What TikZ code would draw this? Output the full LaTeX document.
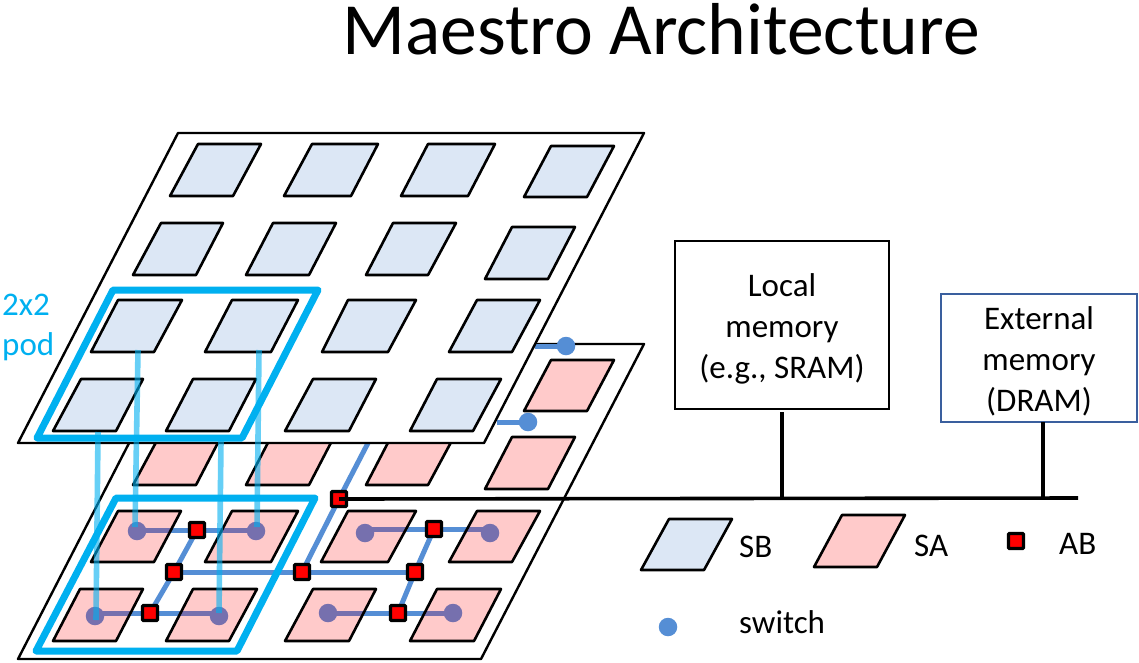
\documentclass[tikz,border=0pt]{standalone}
\usepackage{fontspec}
\setmainfont{Carlito}
\usetikzlibrary{calc}
\definecolor{sbfill}{HTML}{DCE7F5}
\definecolor{safill}{HTML}{FFCACA}
\definecolor{wireblue}{HTML}{558ED5}
\definecolor{wirepurple}{HTML}{7670AE}
\definecolor{podblue}{HTML}{00B0F0}
\definecolor{extblue}{HTML}{3A5F9E}
\pgfdeclarelayer{lowerfill}
\pgfdeclarelayer{wires}
\pgfdeclarelayer{lowerline}
\pgfdeclarelayer{upper}
\pgfsetlayers{lowerfill,wires,lowerline,upper,main}
\newcommand\para[6]{(#1,#6) -- (#2,#6) -- (#3,#5) -- (#4,#5) -- cycle}
\tikzset{
  plane/.style={draw=black,line width=2.4pt,fill=white,line join=round},
  sbcell/.style={draw=black,line width=2.6pt,fill=sbfill,line join=round},
  sacell/.style={fill=safill},
  saline/.style={draw=black,line width=2.6pt,line join=round},
  legendsa/.style={draw=black,line width=2.6pt,fill=safill,line join=round},
  pod/.style={draw=podblue,line width=7pt,line join=round},
  tsv/.style={draw=podblue,line width=5.6pt,opacity=.6},
  wire/.style={draw=wireblue,line width=5pt},
  inpink/.style={draw=wirepurple,line width=5pt},
  bus/.style={draw=black,line width=3.6pt},
  ab/.style={rectangle,draw=black,line width=3.2pt,fill=red,minimum size=15pt,inner sep=0pt,rounded corners=.8pt},
  sw/.style={circle,fill=wireblue,minimum size=18.5pt,inner sep=0pt},
  swpink/.style={circle,fill=wirepurple,minimum size=18.5pt,inner sep=0pt},
  membox/.style={rectangle,draw=black,line width=2.6pt,fill=white,align=center,inner sep=0pt,
    font=\fontsize{33}{41}\selectfont},
  lab/.style={anchor=base west,inner sep=0pt,font=\fontsize{33}{41}\selectfont}
}
\begin{document}
\begin{tikzpicture}[x=1pt,y=-1pt]
\useasboundingbox (0,0) rectangle (1139,662);

% title
\node[anchor=base west,inner sep=0pt,font=\fontsize{73.6}{78}\selectfont] (title) at (342,54) {Maestro Architecture};

% lower plane
\begin{pgfonlayer}{lowerfill}
  \draw[plane] (18,659) -- (481,659) -- (644,344) -- (180,344) -- cycle;
  \fill[sacell] \para{133}{196}{223}{161}{433}{485};
  \fill[sacell] \para{246}{309}{336}{273}{433}{485};
  \fill[sacell] \para{366}{428}{456}{393}{433}{485};
  \fill[sacell] \para{485}{548}{575}{512}{437}{489};
  \fill[sacell] \para{524}{587}{614}{551}{360}{411};
  \fill[sacell] \para{91}{154}{181}{118}{511}{562};
  \fill[sacell] \para{205}{271}{298}{232}{511}{562};
  \fill[sacell] \para{321}{388}{416}{348}{511}{562};
  \fill[sacell] \para{449}{512}{540}{477}{511}{562};
  \fill[sacell] \para{53}{116}{143}{80}{589}{641};
  \fill[sacell] \para{166}{229}{257}{193}{589}{641};
  \fill[sacell] \para{285}{349}{376}{313}{589}{641};
  \fill[sacell] \para{410}{474}{501}{437}{589}{641};
\end{pgfonlayer}
\begin{pgfonlayer}{lowerline}
  \draw[saline] \para{133}{196}{223}{161}{433}{485};
  \draw[saline] \para{246}{309}{336}{273}{433}{485};
  \draw[saline] \para{366}{428}{456}{393}{433}{485};
  \draw[saline] \para{485}{548}{575}{512}{437}{489};
  \draw[saline] \para{524}{587}{614}{551}{360}{411};
  \draw[saline] \para{91}{154}{181}{118}{511}{562};
  \draw[saline] \para{205}{271}{298}{232}{511}{562};
  \draw[saline] \para{321}{388}{416}{348}{511}{562};
  \draw[saline] \para{449}{512}{540}{477}{511}{562};
  \draw[saline] \para{53}{116}{143}{80}{589}{641};
  \draw[saline] \para{166}{229}{257}{193}{589}{641};
  \draw[saline] \para{285}{349}{376}{313}{589}{641};
  \draw[saline] \para{410}{474}{501}{437}{589}{641};
\end{pgfonlayer}

% top plane
\begin{pgfonlayer}{upper}
  \draw[plane] (18,443) -- (484,443) -- (644,133) -- (178,133) -- cycle;
  \draw[sbcell] \para{170}{233}{261}{198}{144}{196};
  \draw[sbcell] \para{284}{351}{378}{312}{144}{196};
  \draw[sbcell] \para{401}{468}{495}{428}{144}{196};
  \draw[sbcell] \para{524}{587}{614}{551}{146}{197};
  \draw[sbcell] \para{133}{196}{223}{161}{223}{275};
  \draw[sbcell] \para{246}{309}{336}{273}{223}{275};
  \draw[sbcell] \para{366}{428}{456}{393}{223}{275};
  \draw[sbcell] \para{485}{548}{575}{512}{227}{279};
  \draw[sbcell] \para{91}{154}{182}{118}{300}{352};
  \draw[sbcell] \para{205}{271}{298}{232}{300}{352};
  \draw[sbcell] \para{322}{388}{416}{348}{300}{352};
  \draw[sbcell] \para{449}{512}{540}{477}{300}{352};
  \draw[sbcell] \para{53}{116}{143}{81}{379}{431};
  \draw[sbcell] \para{166}{229}{256}{193}{379}{431};
  \draw[sbcell] \para{285}{349}{376}{313}{379}{431};
  \draw[sbcell] \para{410}{473}{501}{437}{379}{431};
\end{pgfonlayer}

% pods
\draw[pod] (37,438) -- (242,438) -- (318,290) -- (113,290) -- cycle;
\draw[pod] (36,651) -- (237,651) -- (315,498) -- (116,498) -- cycle;

% switches
\node[swpink] (s1) at (137,531) {};
\node[swpink] (s2) at (256,531) {};
\node[swpink] (s3) at (95,616) {};
\node[swpink] (s4) at (219,616) {};
\node[swpink] (s5) at (365,533) {};
\node[swpink] (s6) at (490,533) {};
\node[swpink] (s7) at (328,613) {};
\node[swpink] (s8) at (453,613) {};
\node[sw] (u1) at (566,346) {};
\node[sw] (u2) at (528,422) {};
\coordinate (u1end) at (535,346);
\coordinate (u2end) at (497,422);
\coordinate (riseend) at (368,443);

% AB squares
\node[ab] (a1) at (197,530) {};
\node[ab] (a2) at (174,572) {};
\node[ab] (a3) at (150,613) {};
\node[ab] (a4) at (302,572) {};
\node[ab] (a5) at (339,499) {};
\node[ab] (a6) at (434,529) {};
\node[ab] (a7) at (415,572) {};
\node[ab] (a8) at (398,613) {};

% wires
\begin{pgfonlayer}{wires}
  \draw[wire] (s1.center |- a1.center) -- (a1.center) -- (s2.center |- a1.center);
  \draw[wire] (s3.center |- a3.center) -- (a3.center) -- (s4.center |- a3.center);
  \draw[wire] (s5.center |- a6.center) -- (a6.center) -- (s6.center |- a6.center);
  \draw[wire] (s7.center |- a8.center) -- (a8.center) -- (s8.center |- a8.center);
  \draw[wire] (a1.center) -- (a2.center) -- (a3.center);
  \draw[wire] (a2.center) -- (a4.center) -- (a7.center);
  \draw[wire] (a4.center) -- (a5.center) -- (riseend);
  \draw[wire] (a6.center) -- (a7.center) -- (a8.center);
  \draw[wire] (u1.center) -- (u1end);
  \draw[wire] (u2.center) -- (u2end);
  \begin{scope}
    \clip \para{91}{154}{181}{118}{511}{562} \para{205}{271}{298}{232}{511}{562}
          \para{321}{388}{416}{348}{511}{562} \para{449}{512}{540}{477}{511}{562}
          \para{53}{116}{143}{80}{589}{641} \para{166}{229}{257}{193}{589}{641}
          \para{285}{349}{376}{313}{589}{641} \para{410}{474}{501}{437}{589}{641};
    \draw[inpink] (s1.center |- a1.center) -- (a1.center) -- (s2.center |- a1.center);
    \draw[inpink] (s3.center |- a3.center) -- (a3.center) -- (s4.center |- a3.center);
    \draw[inpink] (s5.center |- a6.center) -- (a6.center) -- (s6.center |- a6.center);
    \draw[inpink] (s7.center |- a8.center) -- (a8.center) -- (s8.center |- a8.center);
  \end{scope}
\end{pgfonlayer}

% pod label
\node[lab,text=podblue] (podA) at (2,315) {2x2};
\node[lab,text=podblue] (podB) at (2,355) {pod};

% vertical links
\coordinate (v1t) at (138,350);
\coordinate (v2t) at (259,350);
\coordinate (v3t) at (98,432);
\coordinate (v4t) at (221,441);
\draw[tsv] (v1t) -- ($(s1.center)+(-2,-4)$);
\draw[tsv] (v2t) -- ($(s2.center)+(1,-4)$);
\draw[tsv] (v3t) -- ($(s3.center)+(1,4)$);
\draw[tsv] (v4t) -- ($(s4.center)+(0,-3)$);

% memory boxes
\node[membox,minimum width=214pt,minimum height=168pt] (local) at (782,325)
  {\rule{0pt}{30pt}Local\\memory\\(e.g., SRAM)};
\node[membox,draw=extblue,minimum width=196pt,minimum height=128pt] (ext) at (1039,358)
  {\rule{0pt}{30pt}External\\memory\\(DRAM)};

% bus
\coordinate (busend) at (1078,498);
\coordinate (t1) at (782,498);
\coordinate (t2) at (1043,498);
\coordinate (e1) at (782,412);
\coordinate (e2) at (1043,422);
\draw[bus] (a5.center) -- (busend);
\draw[bus] (e1) -- (t1);
\draw[bus] (e2) -- (t2);

% legend
\draw[sbcell] \para{641}{704}{732}{669}{519}{570};
\draw[legendsa] \para{814}{877}{905}{842}{515}{567};
\node[ab] (legab) at (1016,541) {};
\node[sw] (legsw) at (668,627) {};
\node[lab] (tsb) at (739,557) {SB};
\node[lab] (tsa) at (914,556) {SA};
\node[lab] (tab) at (1059,554) {AB};
\node[lab] (tsw) at (739,633) {switch};
\end{tikzpicture}
\end{document}
